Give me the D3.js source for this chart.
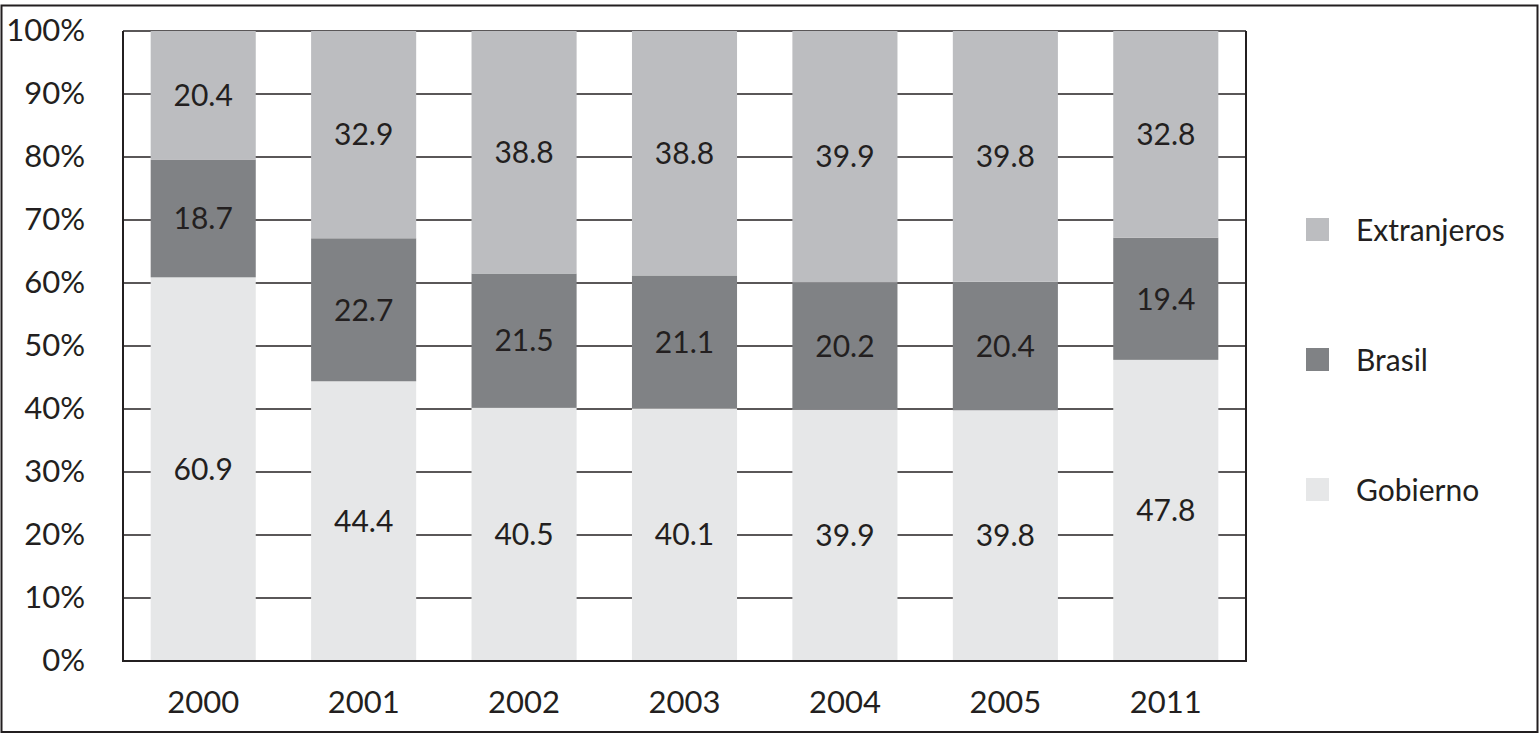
<!DOCTYPE html>
<html>
<head>
<meta charset="utf-8">
<script src="https://cdn.jsdelivr.net/npm/d3@7"></script>
<style>
  body { margin: 0; background: #fff; }
  svg { display: block; font-family: Lato, "Open Sans", sans-serif; }
</style>
</head>
<body>
<svg id="chart" width="1539" height="738"></svg>
<script>
// data
const years = ["2000", "2001", "2002", "2003", "2004", "2005", "2011"];
const gobierno = [60.9, 44.4, 40.5, 40.1, 39.9, 39.8, 47.8];
const brasil = [18.7, 22.7, 21.5, 21.1, 20.2, 20.4, 19.4];
const extranjeros = [20.4, 32.9, 38.8, 38.8, 39.9, 39.8, 32.8];
const seriesNames = ["Gobierno", "Brasil", "Extranjeros"];
const yTicks = [0, 0.1, 0.2, 0.3, 0.4, 0.5, 0.6, 0.7, 0.8, 0.9, 1];

const colors = { Gobierno: "#e6e7e8", Brasil: "#808285", Extranjeros: "#bcbdc0" };
const ink = "#231f20";

const rows = years.map((y, i) => ({
  year: y, Gobierno: gobierno[i], Brasil: brasil[i], Extranjeros: extranjeros[i]
}));

const svg = d3.select("#chart");
const m = { left: 123, top: 31, right: 1246, bottom: 661 };

// outer frame
svg.append("rect")
  .attr("x", 1.5).attr("y", 5.5).attr("width", 1536).attr("height", 726.5)
  .attr("fill", "none").attr("stroke", ink).attr("stroke-width", 2);

const x = d3.scaleBand().domain(years).range([m.left, m.right])
  .paddingInner(0.345).paddingOuter(0.1725);
const y = d3.scaleLinear().domain([0, 1]).range([m.bottom, m.top]);

// grid lines
svg.append("g").selectAll("line").data(yTicks.slice(1)).join("line")
  .attr("x1", m.left).attr("x2", m.right)
  .attr("y1", d => y(d)).attr("y2", d => y(d))
  .attr("stroke", ink).attr("stroke-width", 1.3);

const stack = d3.stack().keys(seriesNames).offset(d3.stackOffsetExpand);
const stacked = stack(rows);

const layers = svg.append("g").selectAll("g").data(stacked).join("g")
  .attr("fill", d => colors[d.key]);

layers.selectAll("rect").data(d => d).join("rect")
  .attr("x", d => x(d.data.year))
  .attr("width", x.bandwidth())
  .attr("y", d => y(d[1]))
  .attr("height", d => y(d[0]) - y(d[1]));

// value labels
const labels = svg.append("g").attr("font-size", 30).attr("fill", ink)
  .attr("text-anchor", "middle");
stacked.forEach(s => {
  labels.selectAll(null).data(s).join("text")
    .attr("x", d => x(d.data.year) + x.bandwidth() / 2)
    .attr("y", d => (y(d[0]) + y(d[1])) / 2)
    .attr("dy", "0.36em")
    .text(d => d.data[s.key].toFixed(1));
});

// plot frame: left, bottom, right
svg.append("path")
  .attr("d", `M${m.left},${m.top}V${m.bottom}H${m.right}V${m.top}`)
  .attr("fill", "none").attr("stroke", ink).attr("stroke-width", 2);

// y axis labels
const yAxis = d3.axisLeft(y).tickValues(yTicks).tickFormat(d3.format(".0%")).tickSize(0).tickPadding(38);
const ya = svg.append("g").attr("transform", `translate(${m.left},0)`).call(yAxis)
  .attr("font-family", null).attr("font-size", 31);
ya.select(".domain").remove();
ya.selectAll("text").attr("fill", ink);

// x axis labels
const xAxis = d3.axisBottom(x).tickSize(0).tickPadding(30);
const xa = svg.append("g").attr("transform", `translate(0,${m.bottom})`).call(xAxis)
  .attr("font-family", null).attr("font-size", 31);
xa.select(".domain").remove();
xa.selectAll("text").attr("fill", ink);

// legend
const legendItems = ["Extranjeros", "Brasil", "Gobierno"];
const lg = svg.append("g").selectAll("g").data(legendItems).join("g")
  .attr("transform", (d, i) => `translate(1306,${230 + i * 130})`);
lg.append("rect").attr("x", 0).attr("y", -12).attr("width", 23).attr("height", 23)
  .attr("fill", d => colors[d]);
lg.append("text").attr("x", 50).attr("dy", "0.36em")
  .attr("font-size", 30).attr("fill", ink).text(d => d);
</script>
</body>
</html>
